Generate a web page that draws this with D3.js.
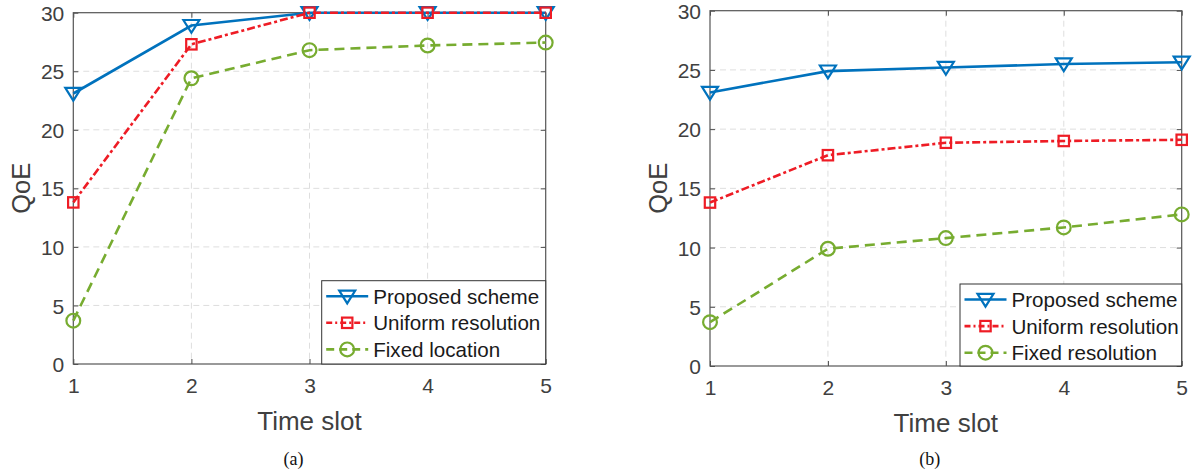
<!DOCTYPE html>
<html>
<head>
<meta charset="utf-8">
<script src="https://cdn.jsdelivr.net/npm/d3@7"></script>
<style>
  html, body { margin: 0; padding: 0; background: #fff; }
  svg { display: block; }
</style>
</head>
<body>
<svg id="chart" width="1200" height="476"></svg>
<script>
// Time slots and QoE tick values
const timeSlots = [1, 2, 3, 4, 5];
const qoeTicks = [0, 5, 10, 15, 20, 25, 30];

// Panel (a)
const proposedA = [23.1, 28.9, 30, 30, 30];
const uniformA  = [13.8, 27.3, 30, 30, 30];
const fixedLocA = [3.7, 24.4, 26.8, 27.2, 27.45];

// Panel (b)
const proposedB = [23.1, 24.9, 25.2, 25.5, 25.65];
const uniformB  = [13.8, 17.8, 18.85, 19.0, 19.1];
const fixedResB = [3.7, 9.9, 10.8, 11.7, 12.8];

const seriesNamesA = ["Proposed scheme", "Uniform resolution", "Fixed location"];
const seriesNamesB = ["Proposed scheme", "Uniform resolution", "Fixed resolution"];
const panelLabels = ["(a)", "(b)"];

const styles = [
  { color: "#0072BD", dash: null,        legendDash: null,      marker: "tri" },
  { color: "#EE1C25", dash: "8,3,3,3",   legendDash: "6,3,2,3", marker: "sq" },
  { color: "#77AC30", dash: "10,6",      legendDash: "8,5",     marker: "circ" }
];

const svg = d3.select("#chart");
const FONT = "'Liberation Sans', Arial, Helvetica, sans-serif";
const LW = 2.6;

function drawMarker(g, type, x, y, color) {
  if (type === "tri") {
    const w = 8.0;
    g.append("path")
      .attr("d", `M${x - w},${y - 5.6} L${x + w},${y - 5.6} L${x},${y + 7.2} Z`)
      .attr("fill", "none").attr("stroke", color).attr("stroke-width", 2.2)
      .attr("stroke-linejoin", "miter");
  } else if (type === "sq") {
    const s = 5.2;
    g.append("rect").attr("x", x - s).attr("y", y - s)
      .attr("width", 2 * s).attr("height", 2 * s)
      .attr("fill", "none").attr("stroke", color).attr("stroke-width", 2.2);
  } else {
    g.append("circle").attr("cx", x).attr("cy", y).attr("r", 6.9)
      .attr("fill", "none").attr("stroke", color).attr("stroke-width", 2.2);
  }
}

function drawPanel(cfg) {
  const { left, right, top, bottom, series, names, label, legend } = cfg;
  const x = d3.scaleLinear().domain([1, 5]).range([left, right]);
  const y = d3.scaleLinear().domain([0, 30]).range([bottom, top]);
  const g = svg.append("g");

  // grid
  g.append("g").selectAll("line").data(timeSlots.slice(1, -1)).join("line")
    .attr("x1", d => x(d)).attr("x2", d => x(d))
    .attr("y1", top).attr("y2", bottom)
    .attr("stroke", "#dedede").attr("stroke-width", 1).attr("stroke-dasharray", "6,4");
  g.append("g").selectAll("line").data(qoeTicks.slice(1, -1)).join("line")
    .attr("x1", left).attr("x2", right)
    .attr("y1", d => y(d)).attr("y2", d => y(d))
    .attr("stroke", "#dedede").attr("stroke-width", 1).attr("stroke-dasharray", "6,4");

  // axes (inward ticks, mirrored on the box)
  const ax = (axis, tr) => {
    const a = g.append("g").attr("transform", tr).call(axis);
    a.select(".domain").remove();
    a.selectAll("line").attr("stroke", "#4d4d4d");
    return a;
  };
  const xb = ax(d3.axisBottom(x).tickValues(timeSlots).tickSize(-5).tickPadding(14).tickFormat(d3.format("d")), `translate(0,${bottom})`);
  xb.selectAll("text").attr("font-family", FONT).attr("font-size", 21).attr("fill", "#404040");
  ax(d3.axisTop(x).tickValues(timeSlots).tickSize(-5).tickFormat(""), `translate(0,${top})`);
  const yl = ax(d3.axisLeft(y).tickValues(qoeTicks).tickSize(-5).tickPadding(9).tickFormat(d3.format("d")), `translate(${left},0)`);
  yl.selectAll("text").attr("font-family", FONT).attr("font-size", 21).attr("fill", "#404040").attr("dy", "0.36em");
  ax(d3.axisRight(y).tickValues(qoeTicks).tickSize(-5).tickFormat(""), `translate(${right},0)`);

  // frame
  g.append("rect").attr("x", left).attr("y", top)
    .attr("width", right - left).attr("height", bottom - top)
    .attr("fill", "none").attr("stroke", "#555").attr("stroke-width", 1.2);

  // series
  const line = d3.line().x((d, i) => x(timeSlots[i])).y(d => y(d));
  series.forEach((vals, si) => {
    const st = styles[si];
    g.append("path").datum(vals).attr("d", line)
      .attr("fill", "none").attr("stroke", st.color).attr("stroke-width", LW)
      .attr("stroke-dasharray", st.dash);
    vals.forEach((v, i) => drawMarker(g, st.marker, x(timeSlots[i]), y(v), st.color));
  });

  // legend
  const lg = g.append("g");
  lg.append("rect").attr("x", legend.x).attr("y", legend.y)
    .attr("width", right - legend.x).attr("height", bottom - legend.y)
    .attr("fill", "#fff").attr("stroke", "#333").attr("stroke-width", 1);
  names.forEach((n, i) => {
    const cy = legend.y + 15.5 + i * 26.6;
    const x0 = legend.x + 4.5, x1 = legend.x + 46.5;
    lg.append("line").attr("x1", x0).attr("x2", x1).attr("y1", cy).attr("y2", cy)
      .attr("stroke", styles[i].color).attr("stroke-width", LW)
      .attr("stroke-dasharray", styles[i].legendDash);
    drawMarker(lg, styles[i].marker, (x0 + x1) / 2, cy, styles[i].color);
    lg.append("text").attr("x", legend.x + 51.5).attr("y", cy).attr("dy", "0.36em")
      .attr("font-family", FONT).attr("font-size", 20.6).attr("fill", "#1a1a1a").text(n);
  });

  // axis titles
  g.append("text").attr("x", (left + right) / 2).attr("y", bottom + 66)
    .attr("text-anchor", "middle").attr("font-family", FONT).attr("font-size", 26)
    .attr("fill", "#404040").text("Time slot");
  g.append("text").attr("transform", `translate(${left - 43.5},${(top + bottom) / 2}) rotate(-90)`)
    .attr("text-anchor", "middle").attr("font-family", FONT).attr("font-size", 25.5)
    .attr("fill", "#404040").text("QoE");

  // panel caption
  g.append("text").attr("x", (left + right) / 2 - 16).attr("y", 465)
    .attr("text-anchor", "middle").attr("font-family", "'Liberation Serif', 'Times New Roman', serif")
    .attr("font-size", 18).attr("fill", "#111").text(label);
}

drawPanel({
  left: 73.3, right: 545.7, top: 12.7, bottom: 364,
  series: [proposedA, uniformA, fixedLocA], names: seriesNamesA,
  label: panelLabels[0], legend: { x: 321.7, y: 280.7 }
});
drawPanel({
  left: 710, right: 1181.7, top: 10.7, bottom: 366,
  series: [proposedB, uniformB, fixedResB], names: seriesNamesB,
  label: panelLabels[1], legend: { x: 960, y: 284 }
});
</script>
</body>
</html>
